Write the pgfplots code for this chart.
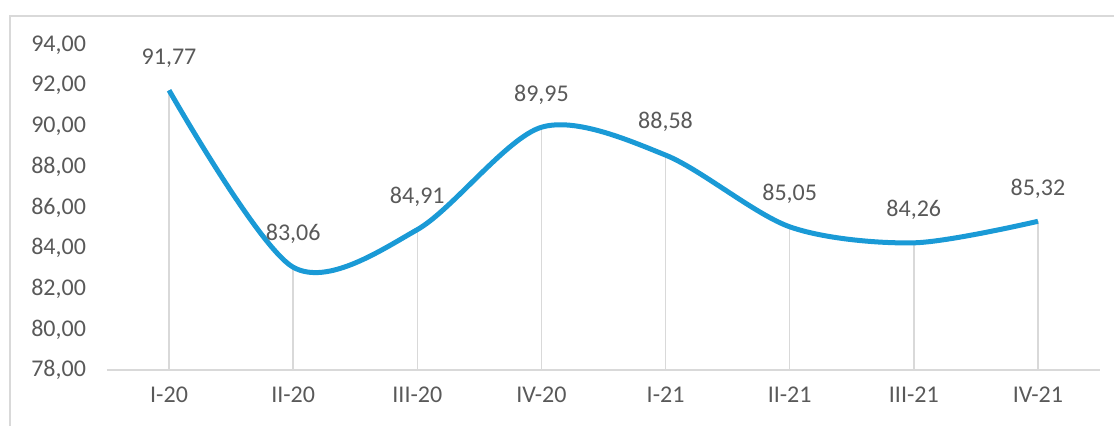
\documentclass[border=0pt]{standalone}
\usepackage{fontspec}
\setmainfont{Carlito}
\usepackage{pgfplots}
\pgfplotsset{compat=1.18}
\definecolor{lineblue}{RGB}{26,154,214}
\definecolor{txtgray}{RGB}{89,89,89}
\definecolor{gridgray}{RGB}{217,217,217}
\begin{document}
\begin{tikzpicture}
\useasboundingbox (0,0) rectangle (557pt,213pt);
\draw[gridgray, line width=1pt] (5pt,0) -- (5pt,205pt) -- (557pt,205pt);
\begin{axis}[
  at={(53.5pt,28pt)}, anchor=south west,
  scale only axis,
  width=496.5pt, height=162.5pt,
  xmin=-0.5, xmax=7.5,
  ymin=78, ymax=94,
  ytick={78,80,...,94},
  xtick={0,...,7},
  xticklabels={I-20,II-20,III-20,IV-20,I-21,II-21,III-21,IV-21},
  axis x line*=bottom,
  axis y line*=left,
  x axis line style={gridgray, line width=1pt, -},
  y axis line style={draw=none},
  major tick length=0pt,
  tick style={draw=none},
  /pgf/number format/assume math mode=true,
  yticklabel style={/pgf/number format/fixed, /pgf/number format/fixed zerofill, /pgf/number format/precision=2, /pgf/number format/use comma, /pgf/number format/1000 sep={}},
  every tick label/.append style={font=\fontsize{12}{14}\selectfont, text=txtgray},
  yticklabel style={xshift=-7pt},
  xticklabel style={yshift=-5pt},
  clip=true,
]
\addplot[ycomb, gridgray, line width=0.8pt, mark=none] coordinates {
(0,91.77) (1,83.06) (2,84.91) (3,89.95) (4,88.58) (5,85.05) (6,84.26) (7,85.32)};
\addplot[lineblue, line width=2.5pt, smooth, mark=none,
  nodes near coords,
  point meta=explicit symbolic,
  every node near coord/.append style={font=\fontsize{12}{14}\selectfont, text=txtgray, anchor=south, yshift=7pt}]
coordinates {
(0,91.77) [91,77] (1,83.06) [83,06] (2,84.91) [84,91] (3,89.95) [89,95]
(4,88.58) [88,58] (5,85.05) [85,05] (6,84.26) [84,26] (7,85.32) [85,32]};
\end{axis}
\end{tikzpicture}
\end{document}
